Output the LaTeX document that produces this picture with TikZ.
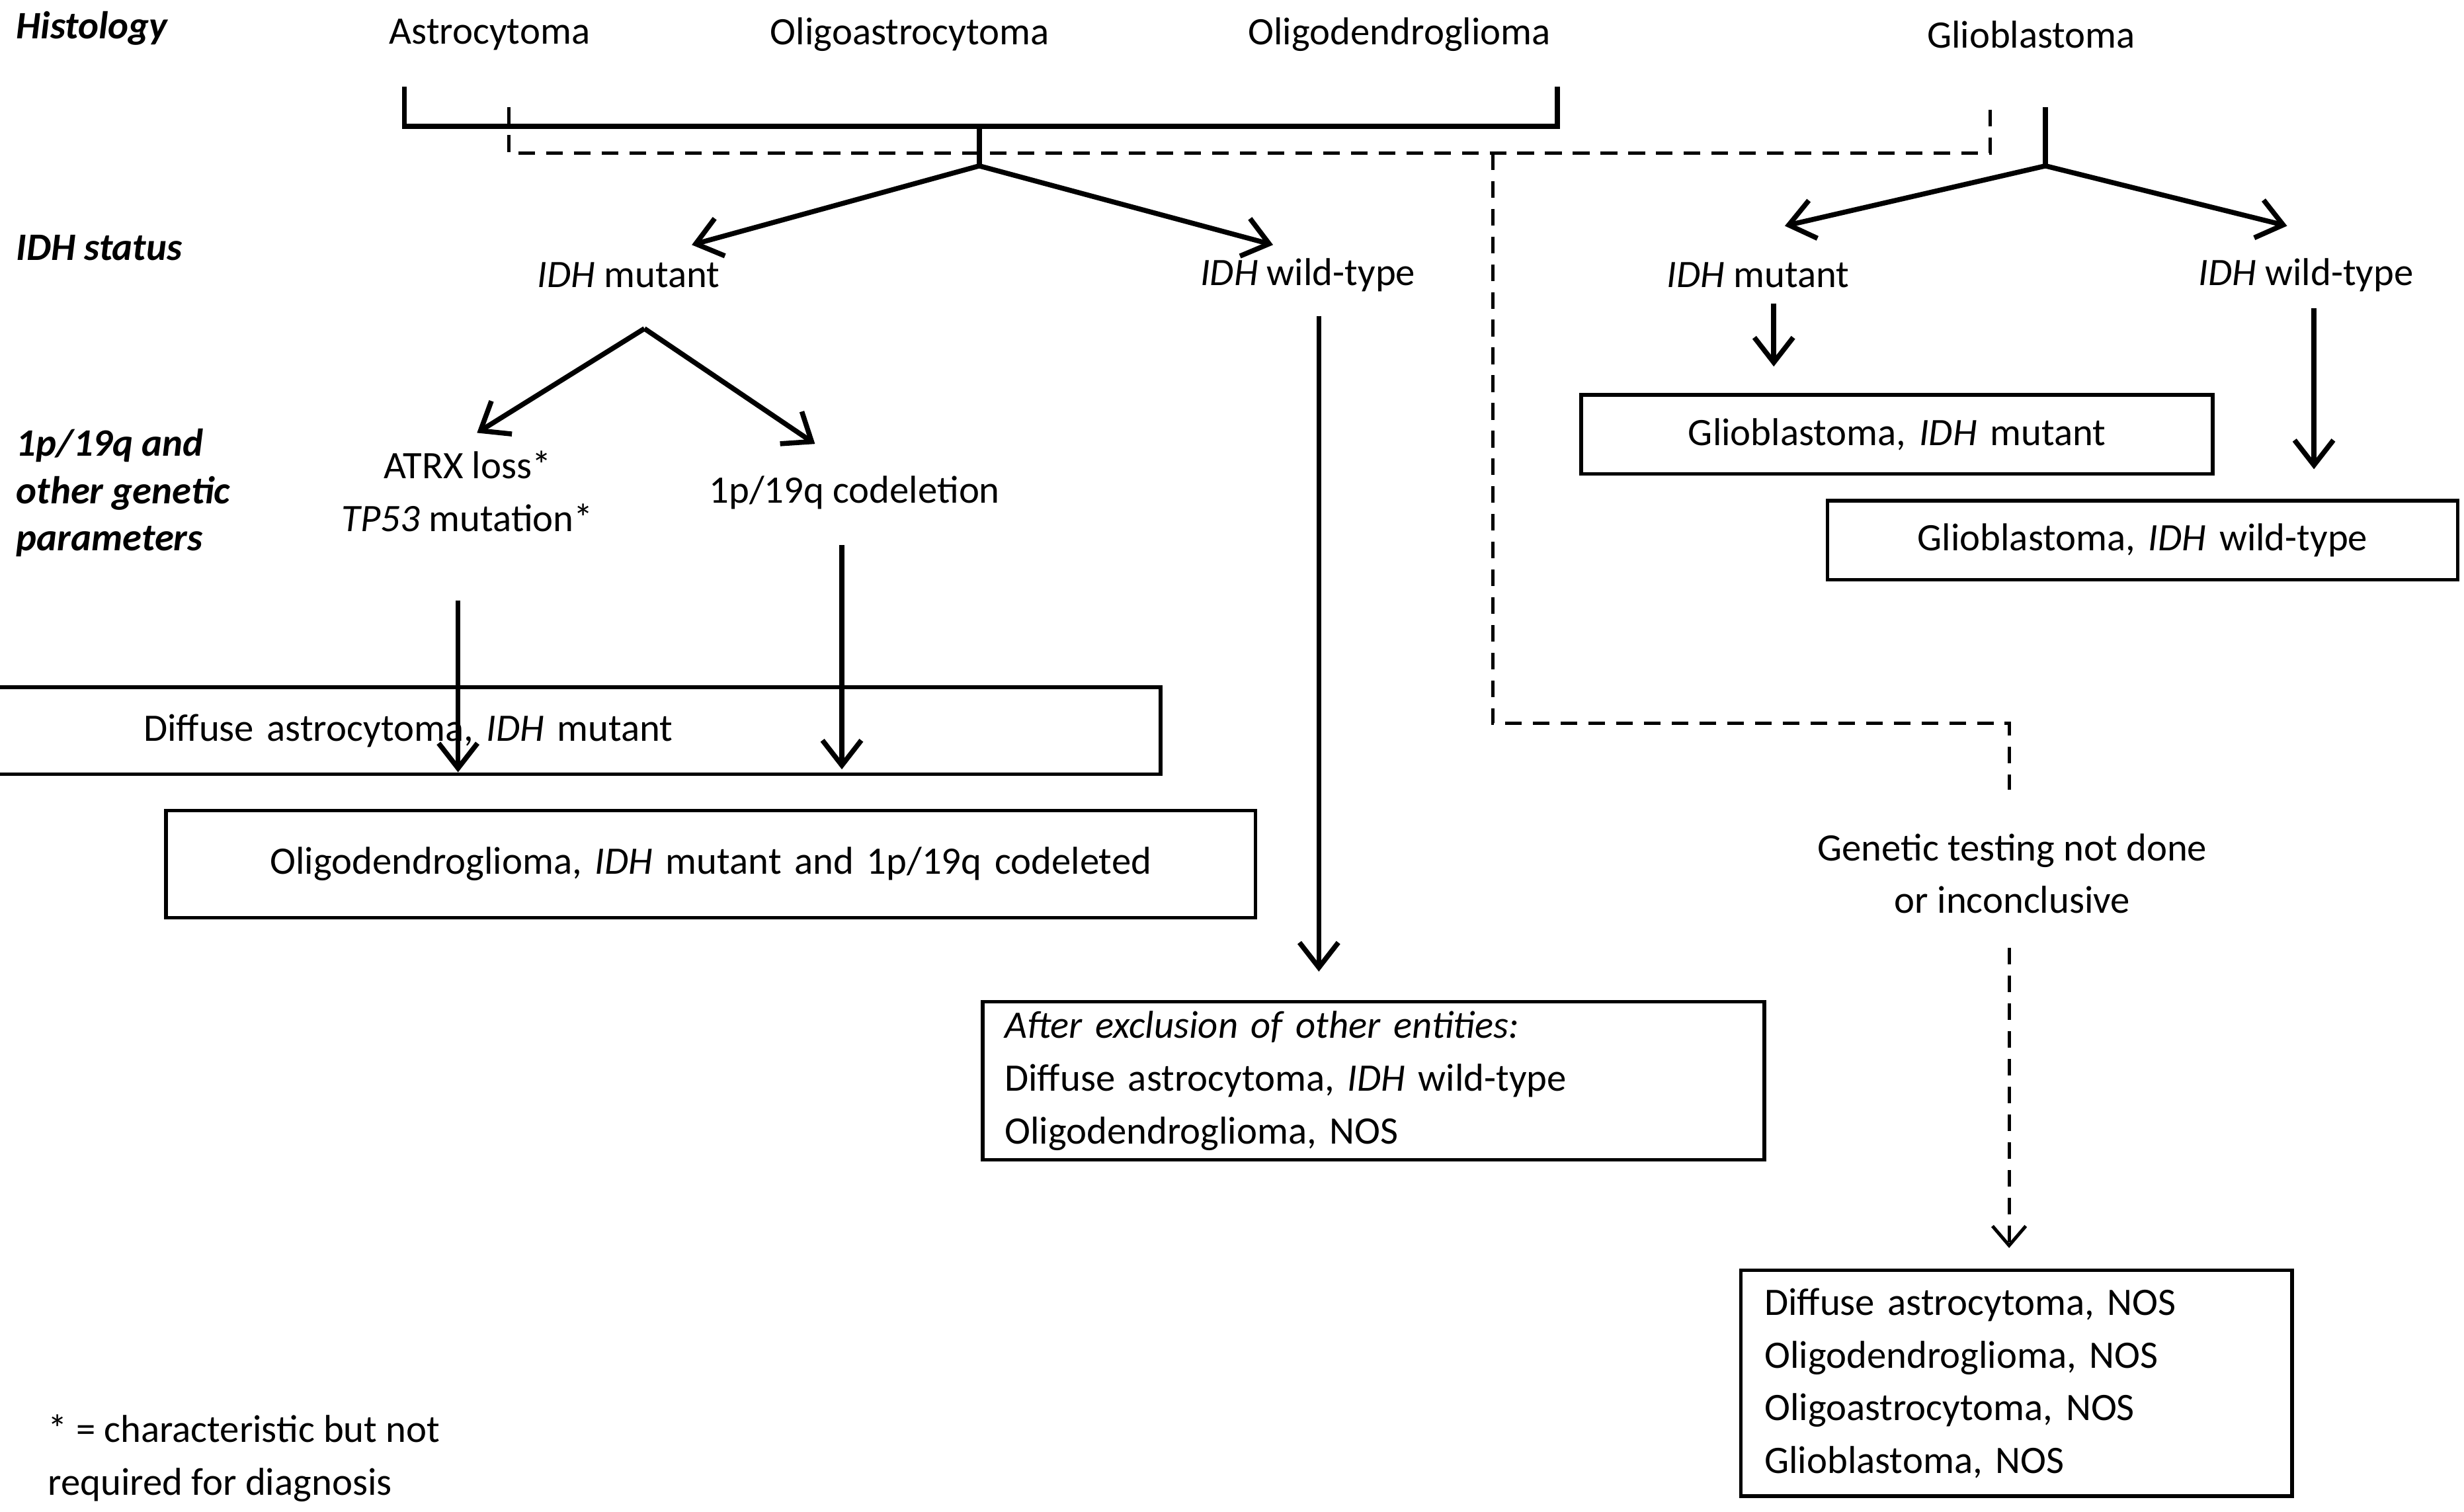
\documentclass[tikz,border=0pt]{standalone}
\usepackage{fontspec}
\setmainfont{Carlito}
\usetikzlibrary{arrows.meta}
\begin{document}
\begin{tikzpicture}[x=0.02cm,y=-0.02cm,
  every node/.style={font=\fontsize{14}{19}\selectfont,inner sep=0pt},
  lbl/.style={font=\fontsize{14}{19}\selectfont\bfseries\itshape,anchor=west,align=left},
  box/.style={draw,line width=1.3pt,inner sep=0pt},
  ln/.style={line width=1.8pt},
  arr/.style={line width=1.8pt,-{Straight Barb[length=9pt,width=14pt,line width=1.8pt]}},
  dsh/.style={line width=1.2pt,dash pattern=on 6pt off 4pt},
  darr/.style={dsh,-{Straight Barb[length=7pt,width=12pt,line width=1.2pt]}}]
\useasboundingbox (0,0) rectangle (1560,957);
% left labels
\node[lbl] (h) at (10,18) {Histology};
\node[lbl] (is) at (10,157) {IDH status};
\node[lbl,font=\fontsize{14}{17}\selectfont\bfseries\itshape] (gp) at (10,312) {1p/19q and\\other genetic\\parameters};
% histology
\node (a) at (310,22) {Astrocytoma};
\node (oa) at (576,22) {Oligoastrocytoma};
\node (od) at (886,22) {Oligodendroglioma};
\node (gb) at (1286,22) {Glioblastoma};
% bracket solid
\coordinate (b1) at (256,55); \coordinate (b2) at (986,55);
\coordinate (bc) at (620,80); \coordinate (bs) at (620,105);
\draw[ln] (b1) -- (256,80) -- (986,80) -- (b2);
\draw[ln] (bc) -- (bs);
% dashed
\coordinate (d1) at (322,68); \coordinate (d2) at (1260,68);
\coordinate (dj) at (945,97); \coordinate (dt) at (1272,500);
\draw[dsh] (d1) -- (322,97) -- (1260,97) -- (d2);
\draw[dsh] (dj) -- (945,458) -- (1272,458) -- (dt);
% IDH status
\node (m1) at (398,174) {\textit{IDH} mutant};
\node (w1) at (828,174) {\textit{IDH} wild-type};
\node (m2) at (1113,174) {\textit{IDH} mutant};
\node (w2) at (1460,174) {\textit{IDH} wild-type};
\coordinate (m1t) at (438,155); \coordinate (w1t) at (806,155);
\draw[arr] (bs) -- (m1t);
\draw[arr] (bs) -- (w1t);
\coordinate (g1) at (1295,68); \coordinate (g2) at (1295,105);
\coordinate (m2t) at (1130,143); \coordinate (w2t) at (1448,143);
\draw[ln] (g1) -- (g2);
\draw[arr] (g2) -- (m2t);
\draw[arr] (g2) -- (w2t);
% genetic
\node[align=center] (atrx) at (296,311) {ATRX loss*\\\textit{TP53} mutation*};
\node (cod) at (541,312) {1p/19q codeletion};
\coordinate (ms) at (408,208);
\coordinate (at) at (302,274); \coordinate (ct) at (516,281);
\draw[arr] (ms) -- (at);
\draw[arr] (ms) -- (ct);
% boxes left
\node[box,minimum width=417\pgflinewidth,text width=8.34cm,minimum height=1.1cm,align=center] (dA) at (258.5,462.5) {Diffuse astrocytoma, \textit{IDH} mutant};
\node[box,text width=13.8cm,minimum height=1.36cm,align=center] (oD) at (450,547) {Oligodendroglioma, \textit{IDH} mutant and 1p/19q codeleted};
\coordinate (a1) at (290,380);
\draw[arr] (a1) -- ([yshift=-1.1cm]dA.north -| a1);
\coordinate (c1) at (533,345); \coordinate (c2) at (533,487);
\draw[arr] (c1) -- (c2);
% wild-type box
\node[box,text width=9.9cm,minimum height=2cm,align=left,anchor=north west,inner xsep=0.28cm,inner ysep=0.08cm,text width=9.34cm] (wt) at (621,633) {\textit{After exclusion of other entities:}\\Diffuse astrocytoma, \textit{IDH} wild-type\\Oligodendroglioma, NOS};
\coordinate (w1s) at (835,200); \coordinate (w1e) at (835,615);
\draw[arr] (w1s) -- (w1e);
% GBM boxes
\node[box,text width=8cm,minimum height=1cm,align=center] (gm) at (1201,275) {Glioblastoma, \textit{IDH} mutant};
\node[box,text width=7.98cm,minimum height=1cm,align=center] (gw) at (1356.5,342) {Glioblastoma, \textit{IDH} wild-type};
\coordinate (m2s) at (1123,192); \coordinate (m2e) at (1123,232);
\draw[arr] (m2s) -- (m2e);
\coordinate (w2s) at (1465,195); \coordinate (w2e) at (1465,297);
\draw[arr] (w2s) -- (w2e);
% genetic testing
\node[align=center] (gt) at (1274,553) {Genetic testing not done\\or inconclusive};
\coordinate (gs) at (1272,600); \coordinate (ge) at (1272,790);
\draw[darr] (gs) -- (ge);
\node[box,anchor=north west,text width=6.98cm,minimum height=2.86cm,align=left,inner xsep=0.3cm,inner ysep=0.12cm,text width=6.38cm] (nos) at (1101,803) {Diffuse astrocytoma, NOS\\Oligodendroglioma, NOS\\Oligoastrocytoma, NOS\\Glioblastoma, NOS};
% footnote
\node[anchor=west,align=left] (fn) at (30,923) {* = characteristic but not\\required for diagnosis};
\end{tikzpicture}
\end{document}
